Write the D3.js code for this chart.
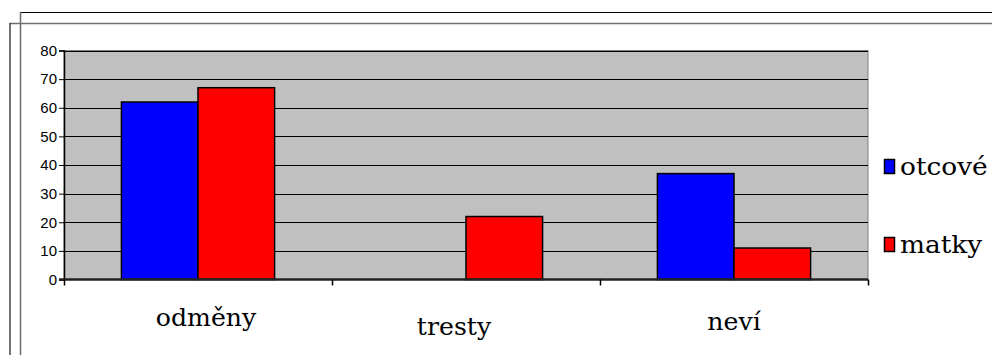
<!DOCTYPE html>
<html>
<head>
<meta charset="utf-8">
<script src="https://cdn.jsdelivr.net/npm/d3@7"></script>
<style>
  body { margin: 0; background: #fff; }
  svg { display: block; }
</style>
</head>
<body>
<div id="chart"></div>
<script>
let categories = ["odměny", "tresty", "neví"]
let series = ["otcové", "matky"]
let otcove = [62, 0, 37]
let matky = [67, 22, 11]
let yTicks = [0, 10, 20, 30, 40, 50, 60, 70, 80]

let colors = {
    otcove: "#0000ff",
    matky: "#ff0000",
    plot: "#c0c0c0"
}

let serifFont = "'DejaVu Serif', serif"
let sansFont = "'Liberation Sans', Arial, sans-serif"

let width = 992, height = 355
let plot = { left: 64, right: 868, top: 50.5, bottom: 279.5 }

// small hand tweaks for the category labels (the original had them a bit off centre)
let labelDx = [8, -12, 0]
let labelDy = [-4, 5, 0]

let svg = d3.select('#chart')
    .append('svg')
    .attr('width', width)
    .attr('height', height)

// the two frame outlines behind the chart
svg.append('line').attr('x1', 20).attr('y1', 12.5).attr('x2', width).attr('y2', 12.5)
    .attr('stroke', '#000').attr('stroke-width', 1)
svg.append('line').attr('x1', 20.5).attr('y1', 12).attr('x2', 20.5).attr('y2', height)
    .attr('stroke', '#6a6a6a').attr('stroke-width', 1.5)
svg.append('line').attr('x1', 9.5).attr('y1', 23.5).attr('x2', width).attr('y2', 23.5)
    .attr('stroke', '#707070').attr('stroke-width', 1.5)
svg.append('line').attr('x1', 10).attr('y1', 23).attr('x2', 10).attr('y2', height)
    .attr('stroke', '#444').attr('stroke-width', 1.5)

let x = d3.scaleBand()
    .domain(categories)
    .range([plot.left, plot.right])
    .paddingInner(0)
    .paddingOuter(0)

let xs = d3.scaleBand()
    .domain(series)
    .range([0, x.bandwidth()])
    .paddingInner(0)
    .paddingOuter(0.75)

let y = d3.scaleLinear()
    .domain([0, 80])
    .range([plot.bottom, plot.top])

// plot background
svg.append('rect')
    .attr('x', plot.left)
    .attr('y', plot.top)
    .attr('width', plot.right - plot.left)
    .attr('height', plot.bottom - plot.top)
    .attr('fill', colors.plot)
    .attr('stroke', '#808080')
    .attr('stroke-width', 1)

// gridlines
svg.append('g')
    .selectAll('line')
    .data(yTicks.filter(d => d > 0))
    .join('line')
    .attr('x1', plot.left)
    .attr('x2', plot.right)
    .attr('y1', d => Math.round(y(d)) + 0.5)
    .attr('y2', d => Math.round(y(d)) + 0.5)
    .attr('stroke', '#000')
    .attr('stroke-width', 1)

// bars
let rows = categories.map((c, i) => ({ cat: c, values: [otcove[i], matky[i]] }))
let seriesColors = [colors.otcove, colors.matky]

svg.append('g')
    .selectAll('g')
    .data(rows)
    .join('g')
    .attr('transform', d => `translate(${x(d.cat)},0)`)
    .selectAll('rect')
    .data(d => d.values.map((v, j) => ({ s: series[j], v: v, j: j })))
    .join('rect')
    .filter(d => d.v > 0)
    .attr('x', d => xs(d.s))
    .attr('y', d => y(d.v))
    .attr('width', xs.bandwidth())
    .attr('height', d => y(0) - y(d.v))
    .attr('fill', d => seriesColors[d.j])
    .attr('stroke', '#000')
    .attr('stroke-width', 1.5)

// y axis
let yAxis = d3.axisLeft(y)
    .tickValues(yTicks)
    .tickSize(5)
    .tickPadding(2)

let yAxisDraw = svg.append('g')
    .attr('transform', `translate(${plot.left},0)`)
    .call(yAxis)
yAxisDraw.select('.domain').attr('stroke', '#000').attr('stroke-width', 1.5)
yAxisDraw.selectAll('.tick line').attr('stroke', '#000')
yAxisDraw.selectAll('text')
    .style('font-family', sansFont)
    .style('font-size', '15px')
    .attr('fill', '#000')

// x axis line + ticks between categories
svg.append('line')
    .attr('x1', plot.left - 5).attr('x2', plot.right)
    .attr('y1', plot.bottom).attr('y2', plot.bottom)
    .attr('stroke', '#222').attr('stroke-width', 2.5)

let boundaries = categories.map(c => x(c)).concat([x.range()[1]])
svg.append('g')
    .selectAll('line')
    .data(boundaries)
    .join('line')
    .attr('x1', d => d + 0.5)
    .attr('x2', d => d + 0.5)
    .attr('y1', plot.bottom)
    .attr('y2', plot.bottom + 6)
    .attr('stroke', '#000')
    .attr('stroke-width', 1.5)

// category labels (serif)
svg.append('g')
    .selectAll('text')
    .data(categories)
    .join('text')
    .attr('transform', (d, i) => `translate(${x(d) + x.bandwidth() / 2 + labelDx[i]},${330 + labelDy[i]}) scale(1.05,1)`)
    .attr('text-anchor', 'middle')
    .style('font-family', serifFont)
    .style('font-size', '24px')
    .attr('fill', '#000')
    .text(d => d)

// legend
let legend = svg.append('g')
    .selectAll('g')
    .data(series)
    .join('g')
    .attr('transform', (d, i) => `translate(884,${159 + i * 78})`)

legend.append('rect')
    .attr('x', 0.5)
    .attr('y', 0.5)
    .attr('width', 10)
    .attr('height', 14)
    .attr('fill', (d, i) => seriesColors[i])
    .attr('stroke', '#000')
    .attr('stroke-width', 1.5)

legend.append('text')
    .attr('transform', 'translate(16,16) scale(1.1,1)')
    .style('font-family', serifFont)
    .style('font-size', '24px')
    .attr('fill', '#000')
    .text(d => d)
</script>
</body>
</html>
